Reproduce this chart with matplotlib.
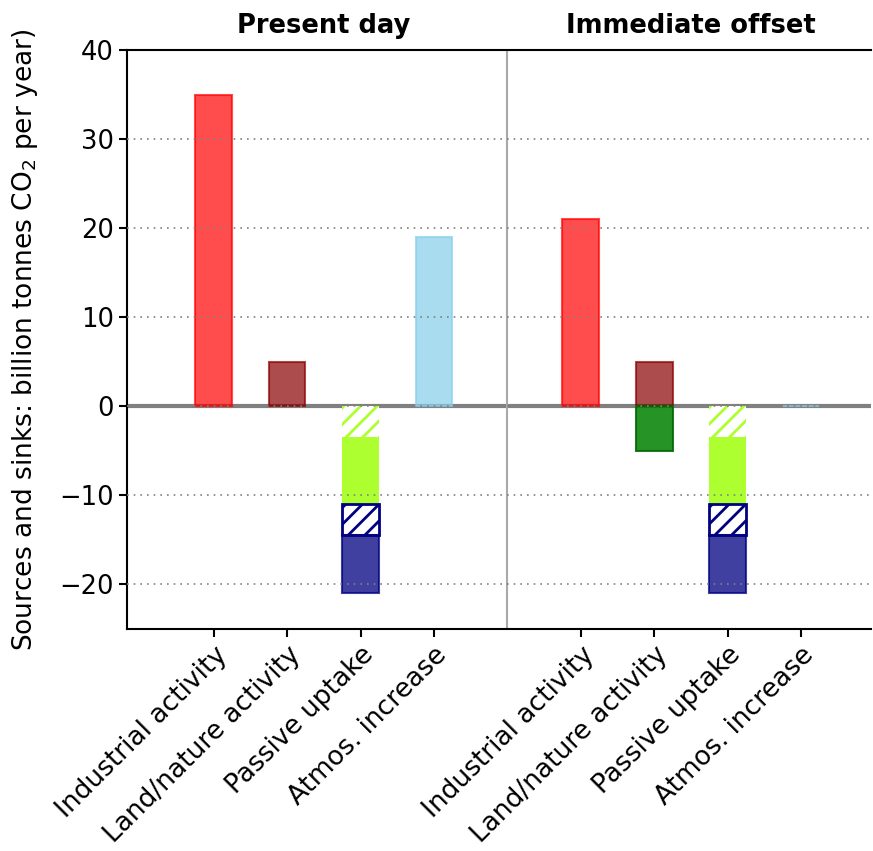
#!/usr/bin/env python3
import numpy as np
import matplotlib
matplotlib.use("Agg")
import matplotlib.pyplot as plt

# ---------------- data ----------------
panels = ["Present day", "Immediate offset"]
categories = ["Industrial activity", "Land/nature activity",
              "Passive uptake", "Atmos. increase"]

industrial = [35.0, 21.0]
land_source = [5.0, 5.0]
land_sink = [0.0, -5.0]
land_passive_hatched = [-3.4, -3.4]   # hatched part of land passive uptake
land_passive_solid = [-7.6, -7.6]     # solid part below hatched
ocean_hatched = [-3.5, -3.5]
ocean_solid = [-6.5, -6.5]
atmos = [19.0, 0.0]

# ---------------- plot ----------------
plt.rcParams["hatch.linewidth"] = 2.0
fig = plt.figure(figsize=(8.73, 8.51), dpi=100)
ax = fig.add_axes([0.1455, 0.261, 0.852, 0.68])

w = 0.5
for p in range(2):
    x0 = 1 + 5 * p
    xs = [x0, x0 + 1, x0 + 2, x0 + 3]

    ax.bar(xs[0], industrial[p], w, color="red", alpha=0.7, edgecolor="red", lw=1.5)
    ax.bar(xs[1], land_source[p], w, color="darkred", alpha=0.7, edgecolor="darkred", lw=1.5)
    if land_sink[p] != 0:
        ax.bar(xs[1], land_sink[p], w, color="green", alpha=0.85, edgecolor="darkgreen", lw=1.5)

    # passive uptake stacked: land hatched, land solid, ocean hatched, ocean solid
    b = 0.0
    ax.bar(xs[2], land_passive_hatched[p], w, bottom=b, color="white",
           edgecolor="greenyellow", hatch="//", lw=0)
    b += land_passive_hatched[p]
    ax.bar(xs[2], land_passive_solid[p], w, bottom=b, color="greenyellow", lw=0)
    b += land_passive_solid[p]
    ax.bar(xs[2], ocean_hatched[p], w, bottom=b, color="white",
           edgecolor="navy", hatch="//", lw=2)
    b += ocean_hatched[p]
    ax.bar(xs[2], ocean_solid[p], w, bottom=b, color="navy", alpha=0.75,
           edgecolor="navy", lw=1.5)

    ax.bar(xs[3], atmos[p], w, color="skyblue", alpha=0.7, edgecolor="skyblue", lw=1.5)

ax.axhline(0, color="gray", lw=3, zorder=0)
ax.axvline(5, color="darkgray", lw=1.5)
for yv in [-20, -10, 0, 10, 20, 30]:
    ax.axhline(yv, color="gray", ls=(0, (1, 3)), lw=1.2, zorder=3)

ax.set_xlim(-0.18, 9.95)
ax.set_ylim(-25, 40)
ax.set_yticks([-20, -10, 0, 10, 20, 30, 40])
ax.set_yticklabels(["\u221220", "\u221210", "0", "10", "20", "30", "40"])
ticks = [1, 2, 3, 4, 6, 7, 8, 9]
ax.set_xticks(ticks)
ax.set_xticklabels(categories * 2, rotation=45, ha="right", rotation_mode="anchor",
                   fontsize=19)
ax.tick_params(axis="y", labelsize=18.5)
ax.tick_params(width=1.5, length=6)
ax.spines["right"].set_visible(False)
for s in ["left", "bottom", "top"]:
    ax.spines[s].set_linewidth(1.5)

ax.set_ylabel("Sources and sinks: billion tonnes CO$_2$ per year)", fontsize=19,
              labelpad=14)
ax.text(2.5, 41.3, panels[0], ha="center", va="bottom", fontsize=18.5, fontweight="bold")
ax.text(7.5, 41.3, panels[1], ha="center", va="bottom", fontsize=18.5, fontweight="bold")

fig.savefig("out.png", dpi=100)
